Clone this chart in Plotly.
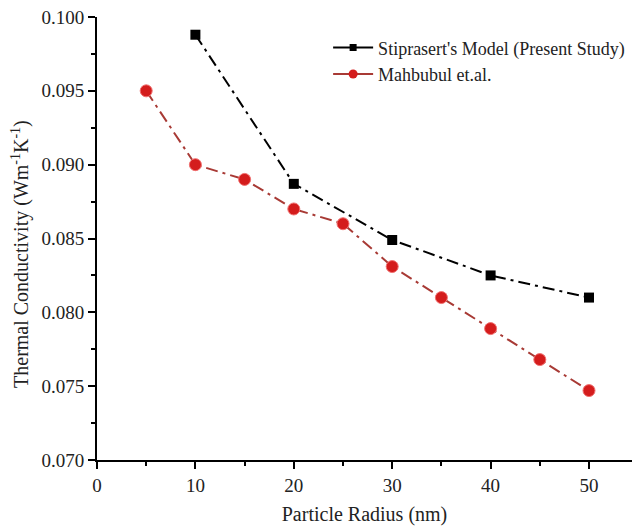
import plotly.graph_objects as go

radius_model = [10, 20, 30, 40, 50]
k_model = [0.0988, 0.0887, 0.0849, 0.0825, 0.0810]

radius_mahbubul = [5, 10, 15, 20, 25, 30, 35, 40, 45, 50]
k_mahbubul = [0.0950, 0.0900, 0.0890, 0.0870, 0.0860, 0.0831, 0.0810, 0.0789, 0.0768, 0.0747]

name_model = "Stiprasert's Model (Present Study)"
name_mahbubul = "Mahbubul et.al."
x_title = "Particle Radius (nm)"
y_title = "Thermal Conductivity (Wm<sup>-1</sup>K<sup>-1</sup>)"

black = "black"
red_line = "#a83a35"
red_marker = "#d41c1c"
dash_pattern = "12px,5px,3px,5px"

fig = go.Figure()
fig.add_trace(go.Scatter(
    x=radius_model, y=k_model, name=name_model, mode="lines+markers", showlegend=False,
    line=dict(color=black, width=2, dash=dash_pattern),
    marker=dict(symbol="square", size=10, color=black),
))
fig.add_trace(go.Scatter(
    x=radius_mahbubul, y=k_mahbubul, name=name_mahbubul, mode="lines+markers", showlegend=False,
    line=dict(color=red_line, width=2, dash=dash_pattern),
    marker=dict(symbol="circle", size=12, color=red_marker, line=dict(color="#f07070", width=1)),
))
# legend entries with smaller marker samples, as in the reference
fig.add_trace(go.Scatter(
    x=[None], y=[None], name=name_model, mode="lines+markers",
    line=dict(color=black, width=2),
    marker=dict(symbol="square", size=7, color=black),
))
fig.add_trace(go.Scatter(
    x=[None], y=[None], name=name_mahbubul, mode="lines+markers",
    line=dict(color=red_line, width=2),
    marker=dict(symbol="circle", size=9, color=red_marker),
))

font_family = "Liberation Serif"
fig.update_layout(
    width=632, height=526,
    margin=dict(l=97, r=0, t=17, b=66),
    paper_bgcolor="white", plot_bgcolor="white",
    font=dict(family=font_family, size=19, color="#222"),
    legend=dict(x=0.432, y=0.972, xanchor="left", yanchor="top",
                bgcolor="rgba(0,0,0,0)", font=dict(family=font_family, size=18, color="#222"),
                itemwidth=40, tracegroupgap=0),
    showlegend=True,
    annotations=[dict(
        text=y_title, xref="paper", yref="paper", x=-0.144, y=0.465,
        xanchor="center", yanchor="middle", textangle=-90, showarrow=False,
        font=dict(family=font_family, size=20, color="#222"),
    )],
)
fig.update_xaxes(
    range=[0, 54.37], tickvals=[0, 10, 20, 30, 40, 50],
    showgrid=False, zeroline=False, showline=True, linecolor="black", linewidth=2,
    ticks="outside", ticklen=7, tickwidth=2, tickcolor="black",
    minor=dict(tickvals=[5, 15, 25, 35, 45], ticks="outside", ticklen=4, tickwidth=2, tickcolor="black"),
    title=dict(text=x_title, font=dict(family=font_family, size=20), standoff=14),
    tickfont=dict(family=font_family, size=19),
)
fig.update_yaxes(
    range=[0.070, 0.100], tickvals=[0.070, 0.075, 0.080, 0.085, 0.090, 0.095, 0.100],
    tickformat=".3f",
    showgrid=False, zeroline=False, showline=True, linecolor="black", linewidth=2,
    ticks="outside", ticklen=7, tickwidth=2, tickcolor="black",
    minor=dict(tickvals=[0.0725, 0.0775, 0.0825, 0.0875, 0.0925, 0.0975], ticks="outside", ticklen=4, tickwidth=2, tickcolor="black"),
    tickfont=dict(family=font_family, size=19),
)
fig.write_html("out.html")
